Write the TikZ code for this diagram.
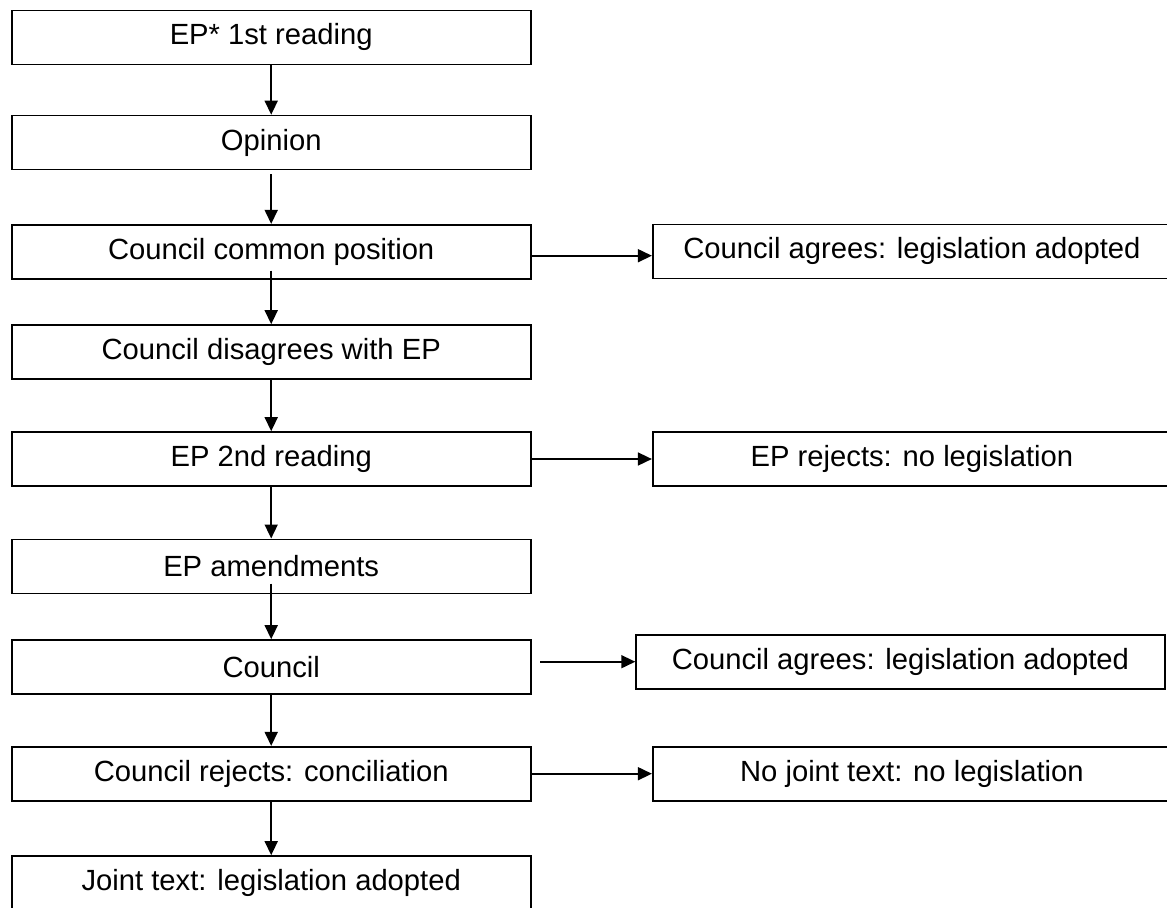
\documentclass[tikz,border=0pt]{standalone}
\usepackage{fontspec}
\setmainfont{Liberation Sans}
\usetikzlibrary{calc,positioning,arrows.meta}

\begin{document}
\begin{tikzpicture}[x=0.5pt,y=-0.5pt,
		stage/.style={draw,line width=0.8pt,minimum width=259.5pt,minimum height=27pt,inner sep=0pt,font=\fontsize{14.6}{17}\selectfont},
		outcome/.style={stage,minimum width=259.2pt},
		flow/.style={line width=0.8pt,-{Triangle[length=7pt,width=6.5pt]}}]
			\useasboundingbox (0,0) rectangle (1167,907);
			\foreach \y/\txt [count=\i] in {37.3/EP* 1st reading, 142.5/Opinion, 251.7/Council common position, 352/Council disagrees with EP, 459/EP 2nd reading, 566.3/EP amendments, 667/Council, 773.7/Council rejects: conciliation, 883/Joint text: legislation adopted} {
				\node[stage] (s\i) at (271.2,\y) {\txt};
			};
			
			\node[outcome] (r1) at (911.9,251.3) {Council agrees: legislation adopted};
			\node[outcome] (r2) at (911.9,459.2) {EP rejects: no legislation};
			\node[outcome,minimum width=264.3pt] (r3) at (900.4,661.7) {Council agrees: legislation adopted};
			\node[outcome] (r4) at (911.9,773.7) {No joint text: no legislation};
			
			\foreach \a/\b/\off in {1/2/0,2/3/4,3/4/-9,4/5/0,5/6/0,6/7/-10.6,7/8/0,8/9/0} {
				\draw[flow] ($(s\a.south)+(0,\off)$) -- (s\b.north);
			};
			\coordinate (c3) at ($(s3.east)+(0,4)$);
			\coordinate (c7) at ($(s7.east)+(8.6,0)$);
			\draw[flow] (c3) -- (c3 -| r1.west);
			\draw[flow] (s5.east) -- (s5.east -| r2.west);
			\draw[flow] (c7 |- r3.west) -- (r3.west);
			\draw[flow] (s8.east) -- (s8.east -| r4.west);
	\end{tikzpicture}
\end{document}
